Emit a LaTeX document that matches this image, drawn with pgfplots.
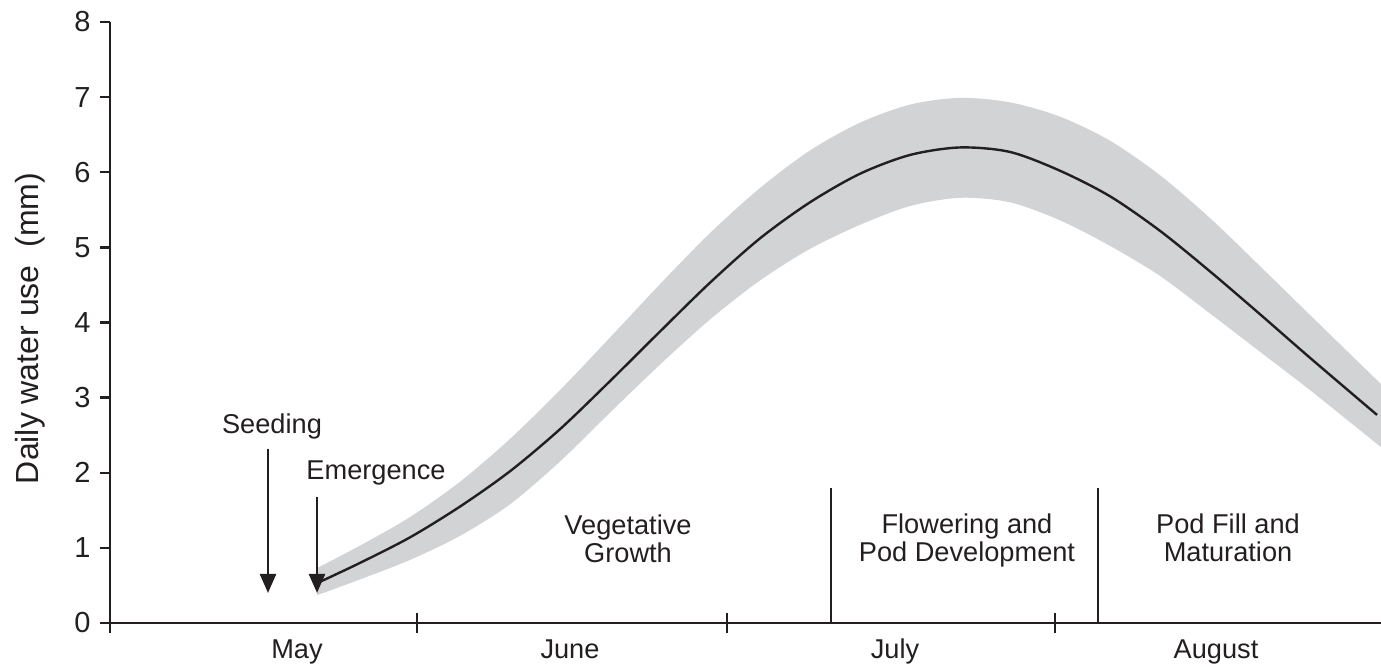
\documentclass[border=0pt]{standalone}
\usepackage{fontspec}
\setmainfont{Liberation Sans}
\usepackage{pgfplots}
\pgfplotsset{compat=1.18}
\usepgfplotslibrary{fillbetween}
\usetikzlibrary{arrows.meta}
\definecolor{band}{RGB}{209,211,212}
\definecolor{ink}{RGB}{35,31,32}
\begin{document}
\fontsize{13.6bp}{14bp}\selectfont
\begin{tikzpicture}
\begin{axis}[
  at={(0,0)}, anchor=south west,
  scale only axis, width=635.5bp, height=300.5bp,
  xmin=0, xmax=127.1, ymin=0, ymax=8,
  axis lines*=left,
  axis line style={ink, line width=1.3bp},
  xtick={0,30.7,61.7,94.5}, xticklabels={},
  ytick={0,1,...,8},
  xtick align=center, ytick align=outside,
  major tick length=5bp,
  xtick style={/pgfplots/major tick length=10bp},
  tick style={ink, line width=1.2bp},
  tick label style={ink, font=\fontsize{14.5bp}{15bp}\selectfont},
  /pgf/number format/assume math mode=true,
  ylabel={Daily water use\ \ (mm)},
  ylabel style={ink, font=\fontsize{16bp}{17bp}\selectfont, at={(axis description cs:-0.063,0.49)}, anchor=center},
  clip=false,
]
\addplot[name path=U, draw=none, smooth, forget plot] coordinates {
(20.7,0.73) (25,1.03) (30,1.41) (35,1.88) (40,2.45) (45,3.10) (50,3.80) (55,4.51) (60,5.19) (65,5.79) (70,6.29) (75,6.66) (80,6.90) (85,6.99) (90,6.93) (95,6.74) (100,6.42) (105,5.96) (110,5.39) (115,4.75) (120,4.10) (127.1,3.18)};
\addplot[name path=L, draw=none, smooth, forget plot] coordinates {
(20.7,0.37) (25,0.58) (30,0.84) (35,1.16) (40,1.58) (45,2.15) (50,2.80) (55,3.44) (60,4.04) (65,4.56) (70,4.98) (75,5.30) (80,5.55) (85,5.66) (90,5.60) (95,5.36) (100,5.02) (105,4.62) (110,4.12) (115,3.61) (120,3.10) (127.1,2.34)};
\addplot[band, draw=none] fill between[of=U and L];
\addplot[ink, line width=1.2bp, smooth] coordinates {
(20.7,0.53) (25,0.80) (30,1.14) (35,1.55) (40,2.02) (45,2.58) (50,3.22) (55,3.88) (60,4.53) (65,5.12) (70,5.60) (75,5.98) (80,6.23) (85,6.33) (90,6.27) (95,6.02) (100,5.68) (105,5.22) (110,4.68) (115,4.11) (120,3.53) (126.7,2.77)};
% extension of x axis to the left
\draw[ink, line width=1.3bp] (axis cs:-0.8,0) -- (axis cs:0,0);
% stage dividers
\draw[ink, line width=1.2bp] (axis cs:72.1,0) -- (axis cs:72.1,1.80);
\draw[ink, line width=1.2bp] (axis cs:98.8,0) -- (axis cs:98.8,1.80);
% arrows
\draw[ink, line width=1.2bp, -{Triangle[length=9.5bp,width=8bp]}] (axis cs:15.8,2.32) -- (axis cs:15.8,0.40);
\draw[ink, line width=1.2bp, -{Triangle[length=9.5bp,width=8bp]}] (axis cs:20.7,1.68) -- (axis cs:20.7,0.40);
% labels
\node[ink] at (axis cs:16.2,2.62) {Seeding};
\node[ink] at (axis cs:26.6,2.0) {Emergence};
\node[ink, align=center] at (axis cs:51.8,1.12) {Vegetative\\Growth};
\node[ink, align=center] at (axis cs:85.7,1.10) {Flowering and\\Pod Development};
\node[ink, align=center] at (axis cs:111.8,1.13) {Pod Fill and\\Maturation};
\node[ink, anchor=base] at (axis cs:18.7,0) [yshift=-17.5bp] {May};
\node[ink, anchor=base] at (axis cs:46.0,0) [yshift=-17.5bp] {June};
\node[ink, anchor=base] at (axis cs:78.5,0) [yshift=-17.5bp] {July};
\node[ink, anchor=base] at (axis cs:110.6,0) [yshift=-17.5bp] {August};
\end{axis}
\pgfresetboundingbox
\path[use as bounding box] (-55bp,-22bp) rectangle (635.5bp,311.5bp);
\end{tikzpicture}
\end{document}
